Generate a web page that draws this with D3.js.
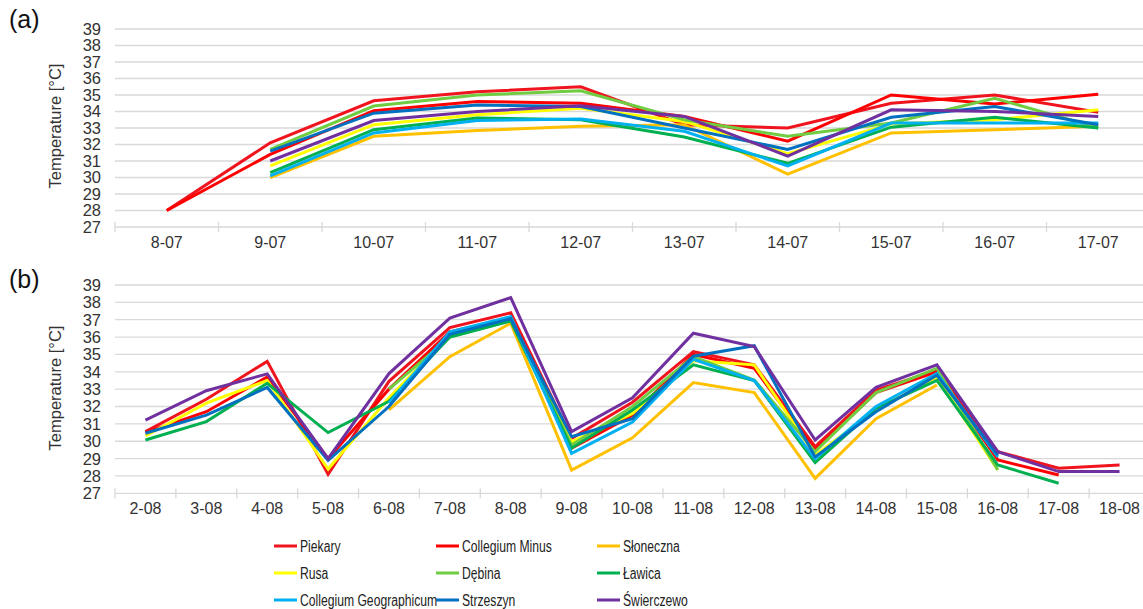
<!DOCTYPE html>
<html>
<head>
<meta charset="utf-8">
<script src="https://cdn.jsdelivr.net/npm/d3@7/dist/d3.min.js"></script>
<style>
	body { margin: 0; background: #fff; }
	svg { display: block; font-family: 'Liberation Sans', Arial, sans-serif; }
	.grid line { stroke: #d9d9d9; stroke-width: 1.3; }
	.series { fill: none; stroke-width: 3; stroke-linejoin: miter; }
</style>
</head>
<body>
<svg id="chart" width="1143" height="609"></svg>
<script>
// Station names + colours (legend order)
var stations = ['Piekary', 'Collegium Minus', 'Słoneczna', 'Rusa', 'Dębina', 'Ławica', 'Collegium Geographicum', 'Strzeszyn', 'Świerczewo'];
var colors = ['#f0141e', '#ff0000', '#ffc000', '#ffff00', '#70cc40', '#00b050', '#00b0f0', '#0070c0', '#7030a0'];

// Panel (a) - July
var daysA = ['8-07', '9-07', '10-07', '11-07', '12-07', '13-07', '14-07', '15-07', '16-07', '17-07'];
var piekaryA = [28.0, 32.1, 34.65, 35.2, 35.5, 33.2, 33.0, 34.5, 35.0, 33.95];
var minusA = [28.0, 31.4, 34.05, 34.6, 34.5, 33.7, 32.2, 35.0, 34.45, 35.05];
var slonecznaA = [null, 30.0, 32.5, 32.85, 33.1, 33.2, 30.2, 32.7, 32.9, 33.1];
var rusaA = [null, 30.7, 33.2, 33.8, 34.2, 33.4, 31.45, 33.25, 33.5, 34.1];
var debinaA = [null, 31.7, 34.33, 35.0, 35.25, 33.5, 32.5, 33.3, 34.8, 33.0];
var lawicaA = [null, 30.3, 32.9, 33.6, 33.5, 32.45, 30.86, 33.05, 33.65, 33.0];
var geographicumA = [null, 30.1, 32.7, 33.45, 33.55, 32.8, 30.7, 33.3, 33.3, 33.3];
var strzeszynA = [null, 31.6, 33.9, 34.4, 34.3, 33.0, 31.7, 33.65, 34.3, 33.2];
var swierczewoA = [null, 31.0, 33.45, 34.0, 34.35, 33.7, 31.3, 34.1, 34.0, 33.7];

// Panel (b) - August
var daysB = ['2-08', '3-08', '4-08', '5-08', '6-08', '7-08', '8-08', '9-08', '10-08', '11-08', '12-08', '13-08', '14-08', '15-08', '16-08', '17-08', '18-08'];
var piekaryB = [30.55, 32.42, 34.6, 28.1, 33.45, 36.55, 37.4, 30.17, 32.25, 35.16, 34.4, 29.69, 32.95, 34.07, 29.4, 28.44, 28.63];
var minusB = [30.5, 31.7, 33.7, 29.0, 33.0, 36.3, 37.1, 29.6, 31.5, 35.0, 34.2, 29.5, 32.8, 34.0, 28.92, 28.05, null];
var slonecznaB = [null, null, null, null, 31.8, 34.87, 36.8, 28.34, 30.2, 33.38, 32.8, 27.86, 31.3, 33.24, null, null, null];
var rusaB = [30.3, 32.19, 33.5, 28.4, 32.5, 36.1, 37.0, 29.97, 31.6, 34.64, 34.4, 29.2, 31.8, 33.7, 28.34, null, null];
var debinaB = [null, null, null, null, 33.0, 36.0, 36.95, 29.78, 32.0, 34.87, 33.53, 29.4, 32.8, 34.2, 28.35, null, null];
var lawicaB = [30.07, 31.13, 33.34, 30.5, 32.3, 36.0, 36.93, 29.6, 31.8, 34.4, 33.5, 28.77, 31.9, 33.5, 28.63, 27.58, null];
var geographicumB = [null, null, null, null, 32.2, 36.3, 37.18, 29.3, 31.1, 34.72, 33.5, 29.0, 32.0, 33.9, 29.1, null, null];
var strzeszynB = [30.46, 31.5, 33.1, 28.9, 32.0, 36.16, 37.05, 30.26, 31.3, 34.9, 35.5, 29.1, 31.7, 33.8, 29.2, null, null];
var swierczewoB = [31.22, 32.91, 33.88, 29.0, 33.9, 37.09, 38.27, 30.55, 32.5, 36.22, 35.45, 30.07, 33.1, 34.4, 29.4, 28.25, 28.25];

var yTicks = d3.range(27, 40);

var svg = d3.select('#chart');

function drawPanel(label, days, series, top, bottom, labelY, titleY) {
	var x = d3.scaleBand().domain(days).range([115, 1150]).padding(0);
	var y = d3.scaleLinear().domain([27, 39]).range([bottom, top]);

	var g = svg.append('g');

	// Gridlines
	g
		.append('g')
		.attr('class', 'grid')
		.selectAll('line')
		.data(yTicks)
		.enter()
		.append('line')
		.attr('x1', 115)
		.attr('x2', 1150)
		.attr('y1', function(d) { return y(d); })
		.attr('y2', function(d) { return y(d); });

	// Category tick marks (cross the axis line)
	g
		.append('g')
		.attr('class', 'grid')
		.selectAll('line')
		.data(days)
		.enter()
		.append('line')
		.attr('x1', function(d) { return x(d); })
		.attr('x2', function(d) { return x(d); })
		.attr('y1', bottom - 5)
		.attr('y2', bottom + 5);

	// Y tick labels
	g
		.selectAll('.ylab')
		.data(yTicks)
		.enter()
		.append('text')
		.attr('x', 101)
		.attr('y', function(d) { return y(d); })
		.attr('dy', '0.36em')
		.attr('text-anchor', 'end')
		.attr('font-size', 16.5)
		.attr('fill', '#333')
		.text(function(d) { return d; });

	// X tick labels
	g
		.selectAll('.xlab')
		.data(days)
		.enter()
		.append('text')
		.attr('x', function(d) { return x(d) + x.bandwidth() / 2; })
		.attr('y', bottom + 21)
		.attr('text-anchor', 'middle')
		.attr('font-size', 16)
		.attr('fill', '#333')
		.text(function(d) { return d; });

	// Axis title
	g
		.append('text')
		.attr('transform', 'translate(61,' + titleY + ') rotate(-90)')
		.attr('text-anchor', 'middle')
		.attr('font-size', 16.5)
		.attr('fill', '#333')
		.text('Temperature [\u00B0C]');

	// Panel label
	g
		.append('text')
		.attr('x', 9)
		.attr('y', labelY)
		.attr('font-size', 25)
		.attr('fill', '#111')
		.text(label);

	var line = d3
		.line()
		.defined(function(d) { return d != null; })
		.x(function(d, i) { return x(days[i]) + x.bandwidth() / 2; })
		.y(function(d) { return y(d); });

	series.forEach(function(values, i) {
		g
			.append('path')
			.datum(values)
			.attr('class', 'series')
			.attr('stroke', colors[i])
			.attr('d', line);
	});
}

drawPanel('(a)', daysA, [piekaryA, minusA, slonecznaA, rusaA, debinaA, lawicaA, geographicumA, strzeszynA, swierczewoA], 29, 227, 28, 126);
drawPanel('(b)', daysB, [piekaryB, minusB, slonecznaB, rusaB, debinaB, lawicaB, geographicumB, strzeszynB, swierczewoB], 285, 493.3, 288, 388);

// Legend: 3 columns x 3 rows (narrow text like the original)
var legendX = [274, 436, 597];
var legendY = [546, 573, 600];

var legend = svg
	.append('g')
	.selectAll('g')
	.data(stations)
	.enter()
	.append('g')
	.attr('transform', function(d, i) {
		return 'translate(' + legendX[i % 3] + ',' + legendY[Math.floor(i / 3)] + ')';
	});

legend
	.append('line')
	.attr('x1', 0)
	.attr('x2', 23)
	.attr('stroke-width', 3)
	.attr('stroke', function(d, i) { return colors[i]; });

legend
	.append('text')
	.attr('transform', 'translate(26,0) scale(0.76,1)')
	.attr('dy', '0.36em')
	.attr('font-size', 16)
	.attr('fill', '#222')
	.text(function(d) { return d; });
</script>
</body>
</html>
